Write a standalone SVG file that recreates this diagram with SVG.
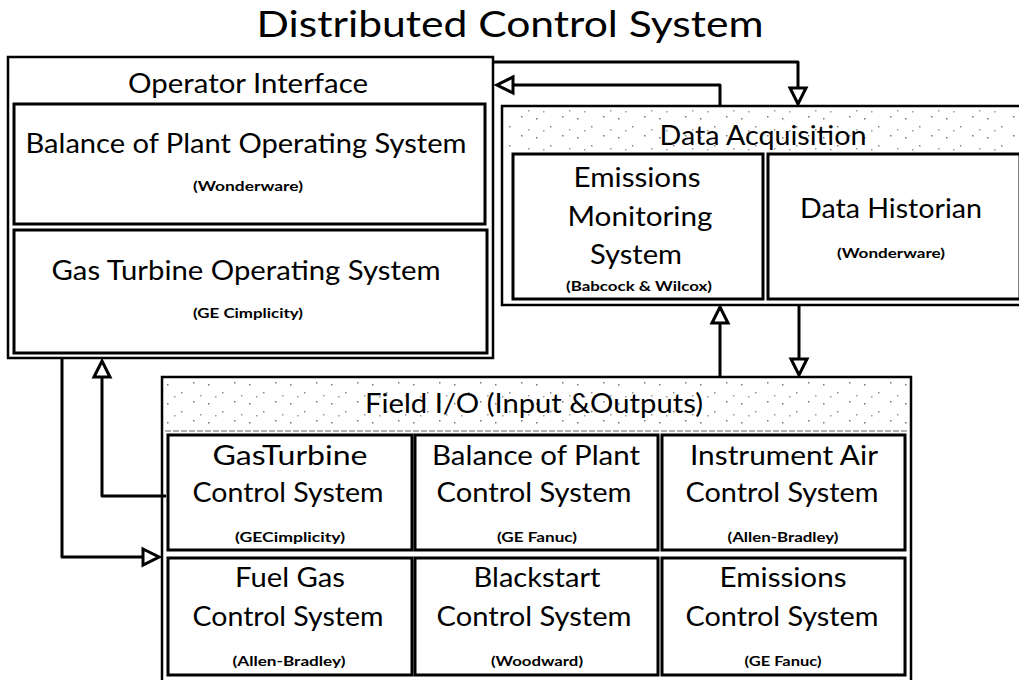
<svg xmlns="http://www.w3.org/2000/svg" width="1019" height="680" viewBox="0 0 1019 680">
  <style>
    .box { fill: none; stroke: #000; stroke-width: 3; }
    .outer { fill: #fff; stroke: #000; stroke-width: 2.5; }
    .t { font-family: Lato, "Liberation Sans", Arial, sans-serif; font-size: 26px; fill: #000; text-anchor: middle; }
    .title { font-family: Lato, "Liberation Sans", Arial, sans-serif; font-size: 36px; fill: #000; text-anchor: middle; }
    .s { font-family: Lato, "Liberation Sans", Arial, sans-serif; font-size: 12.5px; font-weight: bold; fill: #000; text-anchor: middle; }
    .conn { fill: none; stroke: #000; stroke-width: 3; stroke-linejoin: round; marker-end: url(#arr); }
    .sep { stroke: #666; stroke-width: 1; stroke-dasharray: 6 2; }
    .noise { fill: url(#dots); }
  </style>
  <defs>
    <marker id="arr" viewBox="-3 -11 22 22" refX="16" refY="0" markerWidth="22" markerHeight="22" markerUnits="userSpaceOnUse" orient="auto">
      <path d="M0,-8 L16,0 L0,8 Z" fill="#fff" stroke="#000" stroke-width="3" stroke-linejoin="miter"/>
    </marker>
    <pattern id="dots" width="41" height="19" patternUnits="userSpaceOnUse">
      <rect x="3" y="4" width="1.5" height="1.5" fill="#777"/>
      <rect x="17" y="12" width="1.5" height="1.5" fill="#888"/>
      <rect x="29" y="2" width="1.5" height="1.5" fill="#777"/>
      <rect x="36" y="15" width="1.5" height="1.5" fill="#999"/>
      <rect x="10" y="16" width="1.5" height="1.5" fill="#999"/>
    </pattern>
  </defs>

  <rect width="1019" height="680" fill="#fff"/>

  <text id="title" class="title" x="510" y="37" textLength="507" lengthAdjust="spacingAndGlyphs">Distributed Control System</text>

  <g id="operator-interface">
    <rect class="outer" x="8" y="57" width="485" height="301"/>
    <text class="t" x="248" y="93" textLength="240" lengthAdjust="spacingAndGlyphs">Operator Interface</text>
  </g>
  <g id="bop-operating">
    <rect class="box" x="14" y="104" width="471" height="120"/>
    <text class="t" x="246" y="153" textLength="441" lengthAdjust="spacingAndGlyphs">Balance of Plant Operating System</text>
    <text class="s" x="248" y="191" textLength="110" lengthAdjust="spacingAndGlyphs">(Wonderware)</text>
  </g>
  <g id="gt-operating">
    <rect class="box" x="14" y="230" width="473" height="123"/>
    <text class="t" x="246" y="280" textLength="389" lengthAdjust="spacingAndGlyphs">Gas Turbine Operating System</text>
    <text class="s" x="248" y="318" textLength="110" lengthAdjust="spacingAndGlyphs">(GE Cimplicity)</text>
  </g>

  <g id="data-acquisition">
    <rect class="outer" x="502" y="106" width="522" height="199"/>
    <rect class="noise" x="505" y="109" width="514" height="43"/>
    <text class="t" x="763" y="145" textLength="207" lengthAdjust="spacingAndGlyphs">Data Acquisition</text>
  </g>
  <g id="emissions-monitoring">
    <rect class="box" x="513" y="154" width="250" height="145"/>
    <text class="t" x="637" y="187" textLength="127" lengthAdjust="spacingAndGlyphs">Emissions</text>
    <text class="t" x="640" y="226" textLength="145" lengthAdjust="spacingAndGlyphs">Monitoring</text>
    <text class="t" x="636" y="264" textLength="92" lengthAdjust="spacingAndGlyphs">System</text>
    <text class="s" x="639" y="291" textLength="146" lengthAdjust="spacingAndGlyphs">(Babcock &amp; Wilcox)</text>
  </g>
  <g id="data-historian">
    <rect class="box" x="768" y="154" width="252" height="145"/>
    <text class="t" x="891" y="218" textLength="182" lengthAdjust="spacingAndGlyphs">Data Historian</text>
    <text class="s" x="891" y="258" textLength="108" lengthAdjust="spacingAndGlyphs">(Wonderware)</text>
  </g>

  <g id="field-io">
    <rect class="outer" x="162" y="377" width="749" height="310"/>
    <rect class="noise" x="165" y="380" width="743" height="50"/>
    <line class="sep" x1="165" y1="431" x2="908" y2="431"/>
    <text class="t" x="534" y="413" textLength="338" lengthAdjust="spacingAndGlyphs">Field I/O (Input &amp;Outputs)</text>
  </g>

  <g id="gt-control">
    <rect class="box" x="168" y="435" width="244" height="115"/>
    <text class="t" x="290" y="465" textLength="155" lengthAdjust="spacingAndGlyphs">GasTurbine</text>
    <text class="t" x="288" y="502" textLength="191" lengthAdjust="spacingAndGlyphs">Control System</text>
    <text class="s" x="290" y="542" textLength="110" lengthAdjust="spacingAndGlyphs">(GECimplicity)</text>
  </g>
  <g id="bop-control">
    <rect class="box" x="415" y="435" width="243" height="115"/>
    <text class="t" x="536" y="465" textLength="208" lengthAdjust="spacingAndGlyphs">Balance of Plant</text>
    <text class="t" x="534" y="502" textLength="195" lengthAdjust="spacingAndGlyphs">Control System</text>
    <text class="s" x="537" y="542" textLength="80" lengthAdjust="spacingAndGlyphs">(GE Fanuc)</text>
  </g>
  <g id="instrument-air-control">
    <rect class="box" x="662" y="435" width="243" height="115"/>
    <text class="t" x="784" y="465" textLength="188" lengthAdjust="spacingAndGlyphs">Instrument Air</text>
    <text class="t" x="782" y="502" textLength="193" lengthAdjust="spacingAndGlyphs">Control System</text>
    <text class="s" x="783" y="542" textLength="111" lengthAdjust="spacingAndGlyphs">(Allen-Bradley)</text>
  </g>
  <g id="fuel-gas-control">
    <rect class="box" x="168" y="558" width="244" height="117"/>
    <text class="t" x="290" y="587" textLength="110" lengthAdjust="spacingAndGlyphs">Fuel Gas</text>
    <text class="t" x="288" y="626" textLength="191" lengthAdjust="spacingAndGlyphs">Control System</text>
    <text class="s" x="289" y="666" textLength="113" lengthAdjust="spacingAndGlyphs">(Allen-Bradley)</text>
  </g>
  <g id="blackstart-control">
    <rect class="box" x="415" y="558" width="243" height="117"/>
    <text class="t" x="537" y="587" textLength="127" lengthAdjust="spacingAndGlyphs">Blackstart</text>
    <text class="t" x="534" y="626" textLength="195" lengthAdjust="spacingAndGlyphs">Control System</text>
    <text class="s" x="537" y="666" textLength="92" lengthAdjust="spacingAndGlyphs">(Woodward)</text>
  </g>
  <g id="emissions-control">
    <rect class="box" x="662" y="558" width="243" height="117"/>
    <text class="t" x="783" y="587" textLength="127" lengthAdjust="spacingAndGlyphs">Emissions</text>
    <text class="t" x="782" y="626" textLength="193" lengthAdjust="spacingAndGlyphs">Control System</text>
    <text class="s" x="783" y="666" textLength="77" lengthAdjust="spacingAndGlyphs">(GE Fanuc)</text>
  </g>

  <g id="connectors">
    <path class="conn" d="M493,62 H798 V104"/>
    <path class="conn" d="M720,106 V85 H497"/>
    <path class="conn" d="M720,377 V307"/>
    <path class="conn" d="M799,305 V375"/>
    <path class="conn" d="M166,496 H102 V361"/>
    <path class="conn" d="M62,358 V557 H159"/>
  </g>
</svg>
